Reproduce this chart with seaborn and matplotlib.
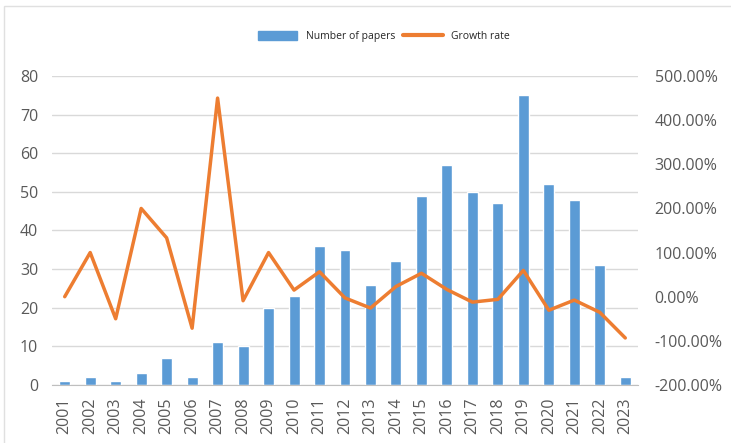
import matplotlib
matplotlib.use("Agg")
import matplotlib.pyplot as plt
import matplotlib.ticker as mtick
from matplotlib.patches import Rectangle
from matplotlib.lines import Line2D
import seaborn as sns
import pandas as pd

# Data
years = [str(y) for y in range(2001, 2024)]
papers = [1, 2, 1, 3, 7, 2, 11, 10, 20, 23, 36, 35, 26, 32, 49, 57, 50, 47, 75, 52, 48, 31, 2]
growth = [0, 100, -50, 200, 133.3, -71.4, 450, -9.1, 100, 15, 56.5, -2.8, -25.7, 23.1,
          53.1, 16.3, -12.3, -6, 59.6, -30.7, -7.7, -35.4, -93.5]

df = pd.DataFrame({"year": years, "papers": papers, "growth": growth})

bar_color = "#5B9BD5"
line_color = "#ED7D31"
tick_color = "#595959"
grid_color = "#D9D9D9"

sns.set_style("white")
plt.rcParams["font.family"] = ["Open Sans", "DejaVu Sans"]

fig = plt.figure(figsize=(7.31, 4.43), dpi=100)
ax = fig.add_axes([0.0711, 0.131, 0.8017, 0.6974])

sns.barplot(data=df, x="year", y="papers", color=bar_color, width=0.43,
            saturation=1, ax=ax, zorder=2)
ax.set_ylim(0, 80)
ax.set_yticks(range(0, 81, 10))
ax.set_xlim(-0.5, len(years) - 0.5)
ax.yaxis.grid(True, color=grid_color, linewidth=1, zorder=0)
ax.set_axisbelow(True)
for s in ["top", "right", "left"]:
    ax.spines[s].set_visible(False)
ax.spines["bottom"].set_color("#BFBFBF")
ax.tick_params(axis="y", length=0, pad=10, labelsize=11.5, labelcolor=tick_color)
ax.tick_params(axis="x", length=0, pad=9, labelsize=11.5, labelcolor=tick_color,
               labelrotation=90)
ax.set_xlabel("")
ax.set_ylabel("")

ax2 = ax.twinx()
sns.lineplot(data=df, x="year", y="growth", color=line_color, linewidth=2.5,
             ax=ax2, sort=False)
ax2.set_ylim(-200, 500)
ax2.set_yticks(range(-200, 501, 100))
ax2.yaxis.set_major_formatter(mtick.FuncFormatter(lambda v, p: f"{v:.2f}%"))
ax2.tick_params(axis="y", length=0, pad=12, labelsize=11.5, labelcolor=tick_color)
for s in ["top", "right", "left", "bottom"]:
    ax2.spines[s].set_visible(False)
ax2.set_xlabel("")
ax2.set_ylabel("")
ax2.set_xlim(-0.5, len(years) - 0.5)

handles = [Rectangle((0, 0), 1, 1, color=bar_color),
           Line2D([0], [0], color=line_color, linewidth=3)]
fig.legend(handles, ["Number of papers", "Growth rate"], loc="center",
           bbox_to_anchor=(0.525, 0.918), ncol=2, frameon=False, fontsize=7.5,
           handlelength=3.8, handleheight=0.9, columnspacing=0.8, handletextpad=0.8,
           labelcolor="#262626")

# light chart frame (only top and left edges fall inside the image)
fig.patches.append(Rectangle((0.0055, -0.05), 1.1, 1.0365, transform=fig.transFigure,
                             fill=False, edgecolor="#E0E0E0", linewidth=1))

fig.savefig("out.png", dpi=100)
